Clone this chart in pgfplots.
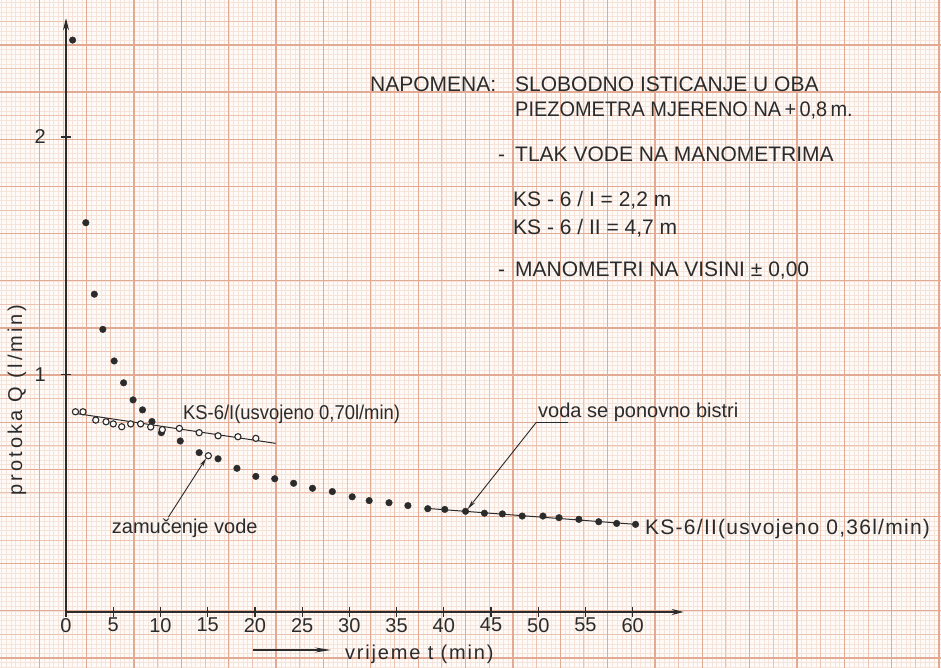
\documentclass[border=0pt]{standalone}
\usepackage{pgfplots}
\pgfplotsset{compat=1.18}
\usepackage{fontspec}
\usetikzlibrary{arrows.meta}
\setmainfont{Liberation Sans}
\newfontfamily\lsA[LetterSpace=6]{Liberation Sans}
\newfontfamily\lsB[LetterSpace=9]{Liberation Sans}
\newfontfamily\lsY[LetterSpace=15]{Liberation Sans}
\definecolor{ink}{HTML}{2B2B2B}
\definecolor{paper}{HTML}{FDFAF7}
\definecolor{gmaj}{HTML}{E3AA93}
\definecolor{gmed}{HTML}{ECC2B1}
\definecolor{gfin}{HTML}{F6E3DA}
\newcommand{\fs}[1]{\fontsize{#1}{#1}\selectfont}
\begin{document}
\begin{tikzpicture}[x=1pt,y=1pt]
\fill[paper] (0,0) rectangle (941,668);
\begin{scope}
\clip (0,0) rectangle (941,668);
% fine lines (1 mm)
\foreach \k in {-19,...,181} {\draw[gfin, line width=0.45pt] ({86.7+4.735*\k},0) -- ({86.7+4.735*\k},668);}
\foreach \k in {-10,...,135} {\draw[gfin, line width=0.45pt] (0,{623-4.715*\k}) -- (941,{623-4.715*\k});}
% medium lines (5 mm)
\foreach \k in {-2,...,37} {\draw[gmed, line width=0.9pt] ({86.7+23.675*\k},0) -- ({86.7+23.675*\k},668);}
\foreach \k in {-2,...,27} {\draw[gmed, line width=0.9pt] (0,{623-23.575*\k}) -- (941,{623-23.575*\k});}
% major lines (1 cm)
\foreach \k in {-1,...,18} {\draw[gmaj, line width=1.3pt] ({86.7+47.35*\k},0) -- ({86.7+47.35*\k},668);}
\foreach \k in {-1,...,14} {\draw[gmaj, line width=1.3pt] (0,{623-47.15*\k}) -- (941,{623-47.15*\k});}
\end{scope}

\begin{axis}[
  anchor=south west, at={(66pt,56pt)},
  x=9.445pt, y=237.5pt,
  xmin=0, xmax=65.4, ymin=0, ymax=2.5,
  clip=false,
  axis lines=left,
  axis line style={ink, line width=1.3pt},
  x axis line style={-{Stealth[length=12pt,width=6pt]}},
  y axis line style={-{Stealth[length=12pt,width=6pt]}},
  xtick={0,5,...,60}, ytick={1,2},
  tick align=center, major tick length=10pt,
  tick style={ink, line width=1.2pt},
  /pgf/number format/assume math mode=true,
  xticklabel style={font=\fs{20}, text=ink, inner sep=1pt},
  yticklabel style={font=\fs{20}, text=ink, inner sep=1pt, xshift=-14pt},
]
% fitted lines
\addplot[ink, line width=1pt] coordinates {(0.7,0.838) (22.2,0.710)};
\addplot[ink, line width=1pt] coordinates {(38.3,0.436) (60.3,0.369)};
% KS-6/II (filled dots)
\addplot[only marks, mark=*, mark size=3.3pt, ink] coordinates {
(0.7,2.408) (2.1,1.639) (3.0,1.338) (3.9,1.190) (5.1,1.057) (6.1,0.965)
(7.1,0.893) (8.1,0.851) (9.1,0.802) (10.1,0.755) (12.1,0.720) (14.1,0.671)
(16.1,0.645) (18.1,0.605) (20.1,0.571) (22.1,0.561) (24.1,0.542) (26.1,0.521)
(28.2,0.507) (30.3,0.485) (32.1,0.469) (34.2,0.460) (36.2,0.448) (38.3,0.435)
(40.1,0.432) (42.3,0.424) (44.3,0.416) (46.2,0.413) (48.3,0.404) (50.5,0.404)
(52.2,0.397) (54.3,0.390) (56.4,0.380) (58.3,0.373) (60.3,0.369)};
% KS-6/I (open circles)
\addplot[only marks, mark=*, mark size=3.1pt, draw=ink, fill=paper, mark options={line width=1.1pt}] coordinates {
(1.0,0.843) (1.8,0.843) (3.15,0.808) (4.24,0.801) (5.0,0.792) (5.9,0.780)
(6.85,0.792) (7.9,0.792) (8.97,0.779) (10.2,0.768) (12.0,0.773) (14.1,0.755)
(15.07,0.658) (16.1,0.742) (18.2,0.738) (20.1,0.731)};
% annotation arrows
\draw[ink, line width=0.9pt, -{Stealth[length=9pt,width=4pt]}] (axis cs:10.83,0.399) -- (axis cs:14.85,0.648);
\draw[ink, line width=0.9pt] (axis cs:53.1,0.799) -- (axis cs:49.8,0.799);
\draw[ink, line width=0.9pt, -{Stealth[length=10pt,width=4pt]}] (axis cs:49.8,0.799) -- (axis cs:42.5,0.432);
\end{axis}

% axis titles
\node[rotate=90, text=ink, font=\lsY\fs{20}, inner sep=0] at (17,268) {protoka Q (l/min)};
\draw[ink, line width=1.1pt, -{Stealth[length=16pt,width=5pt]}] (253,18) -- (331,18);
\node[anchor=base west, inner sep=0, text=ink, font=\lsB\fs{20}] at (345,8) {vrijeme t (min)};

% series labels
\node[anchor=base west, inner sep=0, text=ink, font=\fs{20}] at (183,248) {\scalebox{0.92}[1]{KS-6/I(usvojeno 0,70l/min)}};
\node[anchor=base west, inner sep=0, text=ink, font=\lsA\fs{21}] at (645,133) {KS-6/II(usvojeno 0,36l/min)};
\node[anchor=base west, inner sep=0, text=ink, font=\fs{20}] at (111.7,134) {zamučenje vode};
\node[anchor=base west, inner sep=0, text=ink, font=\fs{20}] at (538,250) {voda se ponovno bistri};

% note
\begin{scope}[every node/.style={anchor=base west, inner sep=0, text=ink, font=\fs{21}}]
\node at (370,576.3) {NAPOMENA:};
\node at (515,576.3) {SLOBODNO ISTICANJE U OBA};
\node at (515,551.3) {\scalebox{0.95}[1]{PIEZOMETRA MJERENO NA\,+\,0,8\,m.}};
\node at (498,506.3) {-};
\node at (515,506.3) {TLAK VODE NA MANOMETRIMA};
\node at (513,461.3) {KS - 6 / I = 2,2 m};
\node at (513,433) {KS - 6 / II = 4,7 m};
\node at (498,391.3) {-};
\node at (515,391.3) {MANOMETRI NA VISINI ± 0,00};
\end{scope}
\end{tikzpicture}
\end{document}
